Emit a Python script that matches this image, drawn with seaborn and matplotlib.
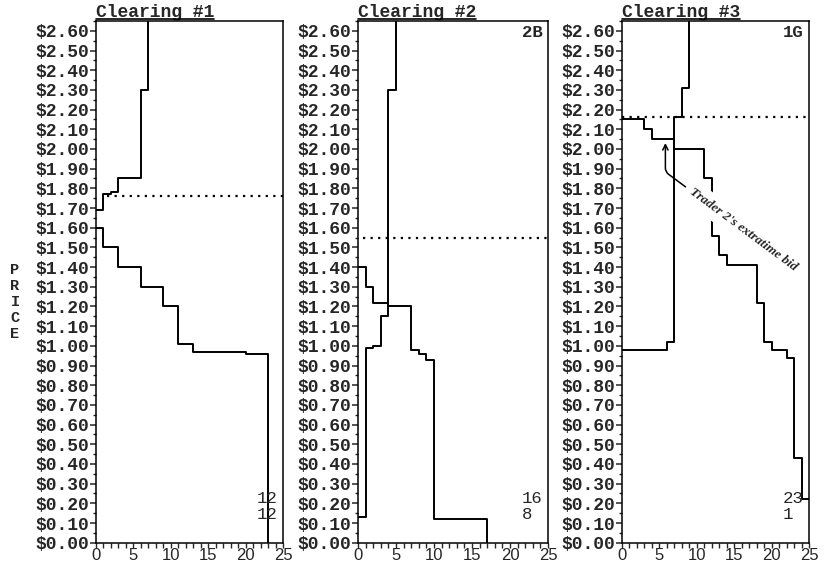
import matplotlib
matplotlib.use("Agg")
import matplotlib.pyplot as plt
from matplotlib.lines import Line2D
from matplotlib.text import Annotation
from matplotlib.ticker import MultipleLocator
import pandas as pd
import seaborn as sns

# --- Settings ---
sns.set_style("ticks")
plt.rcParams["font.family"] = ["Liberation Mono", "DejaVu Sans"]
plt.rcParams["axes.linewidth"] = 1.1

# --- Clearing #1 ---
c1_supply_qty = [0, 1, 2, 3, 6, 7]
c1_supply_price = [1.69, 1.77, 1.78, 1.85, 2.30, 2.70]
c1_demand_qty = [0, 1, 3, 6, 9, 11, 13, 20, 23]
c1_demand_price = [1.60, 1.50, 1.40, 1.30, 1.20, 1.01, 0.97, 0.96, 0.00]
c1_clearing_price = 1.76
c1_notes = ["12", "12"]

# --- Clearing #2 ---
c2_supply_qty = [0, 1, 2, 3, 4, 5]
c2_supply_price = [0.13, 0.99, 1.00, 1.15, 2.30, 2.70]
c2_demand_qty = [0, 1, 2, 4, 7, 8, 9, 10, 17]
c2_demand_price = [1.40, 1.30, 1.22, 1.20, 0.98, 0.96, 0.93, 0.12, 0.00]
c2_clearing_price = 1.55
c2_notes = ["16", "8"]
c2_tag = "2B"

# --- Clearing #3 ---
c3_supply_qty = [0, 6, 7, 8, 9]
c3_supply_price = [0.98, 1.02, 2.16, 2.31, 2.70]
c3_demand_qty = [0, 3, 4, 7, 11, 12, 13, 14, 18, 19, 20, 22, 23, 24, 25]
c3_demand_price = [2.15, 2.10, 2.05, 2.00, 1.85, 1.56, 1.46, 1.41, 1.22, 1.02,
                   0.98, 0.94, 0.43, 0.22, 0.22]
c3_clearing_price = 2.16
c3_notes = ["23", "1"]
c3_tag = "1G"

price_ticks = [i / 10 for i in range(27)]
price_labels = [f"\\${p:.2f}" for p in price_ticks]
qty_ticks = [0, 5, 10, 15, 20, 25]
qty_labels = [str(q) for q in qty_ticks]


def draw_clearing(ax, title, sq, sp, dq, dp, eq_price, eq_start, notes, tag=None):
    supply = pd.DataFrame({"qty": sq, "price": sp})
    demand = pd.DataFrame({"qty": dq, "price": dp})
    sns.lineplot(data=supply, x="qty", y="price", drawstyle="steps-post", color="black",
                 lw=1.4, estimator=None, sort=False, ax=ax, zorder=5)
    sns.lineplot(data=demand, x="qty", y="price", drawstyle="steps-post", color="black",
                 lw=1.4, estimator=None, sort=False, ax=ax, zorder=2)
    ax.hlines(eq_price, eq_start, 25, colors="black", linestyles=(0, (1.0, 2.4)), lw=1.6)

    ax.set_xlim(0, 25)
    ax.set_ylim(0, 2.65)
    ax.set_xlabel("")
    ax.set_ylabel("")
    ax.set_yticks(price_ticks, price_labels, fontweight="bold", fontsize=13)
    ax.yaxis.set_minor_locator(MultipleLocator(0.05))
    ax.set_xticks(qty_ticks, qty_labels, fontsize=12, family="Liberation Sans")
    ax.xaxis.set_minor_locator(MultipleLocator(1))
    ax.tick_params(axis="y", which="major", length=4, width=1.1, pad=1, direction="out")
    ax.tick_params(axis="y", which="minor", length=2.5, width=1.0, direction="out")
    ax.tick_params(axis="x", which="both", length=3.5, width=1.0, pad=0.5, direction="out")
    for side in ["top", "right", "left", "bottom"]:
        ax.spines[side].set_visible(True)
        ax.spines[side].set_color("black")

    ax.annotate(title, xy=(0, 1), xycoords="axes fraction", xytext=(0, 3),
                textcoords="offset points", ha="left", va="baseline",
                fontweight="bold", fontsize=13)
    ax.text(21.5, 0.225, notes[0], ha="left", va="center", fontsize=12.5)
    ax.text(21.5, 0.145, notes[1], ha="left", va="center", fontsize=12.5)
    if tag:
        ax.text(24.3, 2.59, tag, ha="right", va="center", fontsize=12.5, fontweight="bold")


fig = plt.figure(figsize=(8.24, 5.66), dpi=100)
ax1 = fig.add_axes([96 / 824, 23.3 / 566, 187 / 824, 521.7 / 566])
ax2 = fig.add_axes([358 / 824, 23.3 / 566, 190 / 824, 521.7 / 566])
ax3 = fig.add_axes([622 / 824, 23.3 / 566, 187 / 824, 521.7 / 566])

draw_clearing(ax1, "Clearing #1", c1_supply_qty, c1_supply_price, c1_demand_qty,
              c1_demand_price, c1_clearing_price, 1.5, c1_notes)
draw_clearing(ax2, "Clearing #2", c2_supply_qty, c2_supply_price, c2_demand_qty,
              c2_demand_price, c2_clearing_price, 0.6, c2_notes, c2_tag)
draw_clearing(ax3, "Clearing #3", c3_supply_qty, c3_supply_price, c3_demand_qty,
              c3_demand_price, c3_clearing_price, 0, c3_notes, c3_tag)

# extratime bid note
ax3.annotate("Trader 2's extratime bid", xy=(5.8, 2.03), xytext=(16.2, 1.59),
             rotation=-36.6, rotation_mode="anchor", ha="center", va="center",
             fontsize=9.5, family="Liberation Serif", style="italic", fontweight="bold",
             bbox=dict(boxstyle="square,pad=0.45", fc="white", ec="none"),
             arrowprops=dict(arrowstyle="->", connectionstyle="angle,angleA=-36.6,angleB=90,rad=4",
                             color="black", lw=1.1, shrinkA=0, shrinkB=0),
             zorder=3)

fig.text(15 / 824, 1 - 302 / 566, "P\nR\nI\nC\nE", ha="center", va="center",
         fontweight="bold", fontsize=11, linespacing=1.2)

# underline the titles
fig.canvas.draw()
for ax in [ax1, ax2, ax3]:
    t = [c for c in ax.get_children() if isinstance(c, Annotation)][0]
    bb = t.get_window_extent()
    top = ax.get_window_extent().y1 + 2
    x0, y0 = fig.transFigure.inverted().transform((bb.x0, top))
    x1, _ = fig.transFigure.inverted().transform((bb.x1, top))
    fig.add_artist(Line2D([x0, x1], [y0, y0], transform=fig.transFigure, color="black", lw=1.2))

fig.savefig("out.png", dpi=100)
